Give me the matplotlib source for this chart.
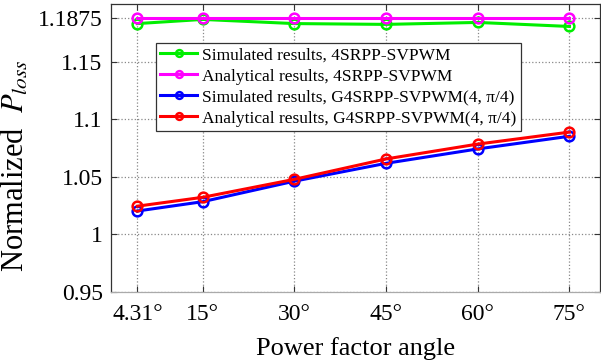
import numpy as np
import matplotlib
matplotlib.use("Agg")
import matplotlib.pyplot as plt

angles = [4.31, 15, 30, 45, 60, 75]
tick_labels = ["4.31°", "15°", "30°", "45°", "60°", "75°"]
sim_4srpp = [1.183, 1.1866, 1.183, 1.1823, 1.184, 1.1805]
ana_4srpp = [1.1875, 1.1875, 1.1875, 1.1875, 1.1875, 1.1875]
sim_g4srpp = [1.0203, 1.0284, 1.0462, 1.0617, 1.0742, 1.0852]
ana_g4srpp = [1.0245, 1.0322, 1.0478, 1.0655, 1.0784, 1.0888]
labels = ["Simulated results, 4SRPP-SVPWM",
          "Analytical results, 4SRPP-SVPWM",
          "Simulated results, G4SRPP-SVPWM(4, π/4)",
          "Analytical results, G4SRPP-SVPWM(4, π/4)"]
colors = ["#00ee00", "#ff00ff", "#0000ff", "#ff0000"]

plt.rcParams['font.family'] = ['Liberation Serif', 'DejaVu Serif']
plt.rcParams['mathtext.fontset'] = 'stix'

fig = plt.figure(figsize=(6.01, 3.63), dpi=100)
ax = fig.add_axes([111/601, 1 - 292/363, (600 - 111)/601, (292 - 4)/363])

for ys, c, lab in zip([sim_4srpp, ana_4srpp, sim_g4srpp, ana_g4srpp], colors, labels):
    ax.plot(angles, ys, color=c, lw=2.2, marker='o', ms=7, mfc='none', mew=1.8, label=lab)

ax.set_xlim(0, 80)
ax.set_ylim(0.95, 1.2)
ax.set_xticks(angles)
ax.set_xticklabels(tick_labels)
ax.set_yticks([0.95, 1, 1.05, 1.1, 1.15, 1.1875])
ax.set_yticklabels(["0.95", "1", "1.05", "1.1", "1.15", "1.1875"])
ax.tick_params(direction='in', top=True, right=True, labelsize=17, length=4, color='#333333')
ax.tick_params(axis='y', pad=6)
ax.tick_params(axis='x', pad=9)
ax.grid(True, linestyle=':', color='#888888', lw=0.9)
for s in ax.spines.values():
    s.set_color('#333333')
    s.set_linewidth(0.9)
ax.spines['bottom'].set_color('#aaaaaa')

ax.set_xlabel("Power factor angle", fontsize=19)
ax.xaxis.set_label_coords(0.5, -0.155)
ax.set_ylabel(r"Normalized  $P_{loss}$", fontsize=22)
ax.yaxis.set_label_coords(-0.165, 0.44)

leg = ax.legend(loc='upper left', bbox_to_anchor=(45/489, 1 - 39/288), fontsize=12.5, fancybox=False,
                framealpha=1, edgecolor='#333333', borderpad=0.25, labelspacing=0.28,
                handlelength=2.1, handletextpad=0.3, borderaxespad=0, markerscale=0.7)
leg.get_frame().set_linewidth(0.9)

fig.savefig("out.png", dpi=100)
